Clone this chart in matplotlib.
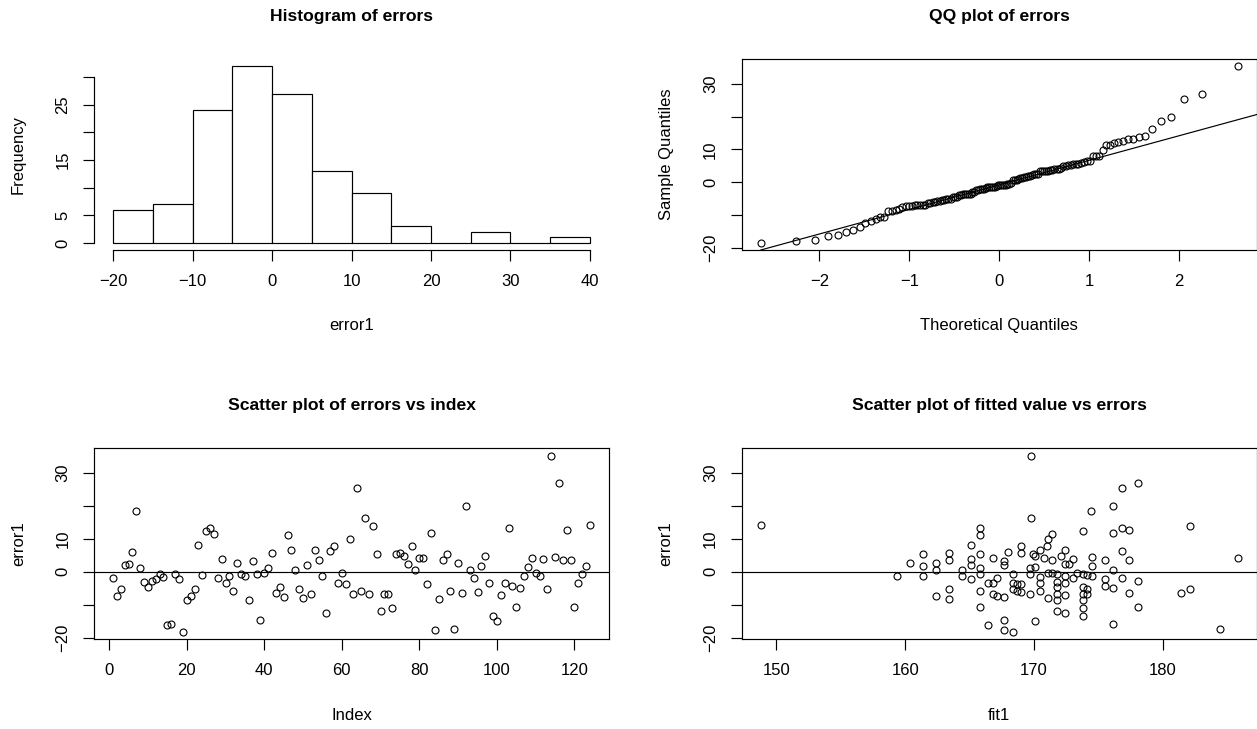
from statistics import NormalDist

import numpy as np
import matplotlib
matplotlib.use("Agg")
import matplotlib.pyplot as plt

plt.rcParams['font.family'] = ['Liberation Sans', 'DejaVu Sans']

# residuals of the fit, in index order
error1 = [
    -2.0, -7.3, -5.2, 1.9, 2.4, 6.0, 18.6, 1.2, -3.0, -4.6,
    -2.8, -2.2, -0.7, -1.7, -16.3, -16.0, -0.8, -2.3, -18.4, -8.7,
    -7.3, -5.2, 8.0, -1.0, 12.3, 13.3, 11.5, -2.0, 3.9, -3.5,
    -1.3, -5.8, 2.5, -0.7, -1.3, -8.7, 3.3, -0.7, -14.6, -0.3,
    1.0, 5.6, -6.4, -4.6, -7.6, 11.2, 6.6, 0.6, -5.4, -8.0,
    1.9, -6.8, 6.6, 3.6, -1.4, -12.4, 6.3, 7.9, -3.4, -0.4,
    -3.7, 9.9, -6.8, 25.3, -5.9, 16.2, -6.8, 13.8, 5.3, -11.8,
    -6.8, -6.8, -11.1, 5.3, 5.6, 4.9, 2.2, 7.9, 0.6, 4.2,
    4.2, -3.7, 11.9, -17.7, -8.4, 3.5, 5.5, -5.8, -17.4, 2.5,
    -6.4, 19.9, 0.6, -2.0, -6.1, 1.6, 4.9, -3.4, -13.6, -15.1,
    -7.1, -3.4, 13.3, -4.3, -10.6, -5.1, -1.4, 1.3, 4.2, -0.4,
    -1.4, 3.9, -5.4, 35.3, 4.5, 27.0, 3.5, 12.6, 3.5, -10.6,
    -3.4, -0.8, 1.6, 14.1,
]

# fitted values, same order as error1
fit1 = [
    167.1, 162.4, 182.1, 165.1, 172.4, 168.0, 174.4, 169.7, 171.8, 171.8,
    178.1, 165.1, 171.8, 170.5, 166.4, 176.1, 169.7, 175.5, 168.4, 171.8,
    167.1, 174.1, 165.1, 174.1, 173.8, 165.8, 171.4, 173.0, 173.0, 166.4,
    174.5, 168.7, 160.4, 173.8, 172.4, 173.8, 167.7, 168.4, 167.7, 173.3,
    165.8, 163.4, 177.4, 173.8, 167.7, 165.8, 170.5, 162.4, 163.4, 171.1,
    167.7, 166.8, 172.4, 171.4, 159.4, 172.4, 176.8, 169.0, 168.4, 171.4,
    168.7, 171.1, 169.7, 176.8, 165.8, 169.8, 171.8, 182.1, 165.8, 171.8,
    173.8, 174.1, 173.8, 169.9, 169.0, 170.1, 172.7, 171.0, 164.4, 166.8,
    170.8, 169.0, 176.1, 167.7, 163.4, 177.4, 161.4, 170.5, 184.4, 162.4,
    181.4, 176.1, 176.1, 176.8, 169.0, 161.4, 172.1, 170.5, 173.8, 170.1,
    172.4, 172.4, 176.8, 175.5, 178.1, 176.1, 161.4, 170.1, 185.8, 171.1,
    164.4, 165.1, 168.4, 169.8, 174.5, 178.1, 163.4, 177.4, 175.5, 165.8,
    166.8, 165.8, 174.5, 148.8,
]

hist_breaks = list(range(-20, 45, 5))
hist_xticks = [-20, -10, 0, 10, 20, 30, 40]
hist_yticks = [0, 5, 10, 15, 20, 25, 30]
hist_ylabels = ['0', '5', '', '15', '', '25', '']
err_yticks = [-20, -10, 0, 10, 20, 30]
err_ylabels = ['\u221220', '', '0', '10', '', '30']
qq_xticks = [-2, -1, 0, 1, 2]
index_xticks = [0, 20, 40, 60, 80, 100, 120]
fit_xticks = [150, 160, 170, 180]

TICK_LEN = 8.1
LW = 0.85
FS = 12
TITLE_FS = 12.6


def r_range(vals):
    lo, hi = min(vals), max(vals)
    d = (hi - lo) * 0.04
    return lo - d, hi + d


def style(ax, title, xlab, ylab):
    ax.tick_params(direction='out', length=TICK_LEN, width=LW,
                   labelsize=FS, pad=9)
    ax.tick_params(axis='y', labelrotation=90)
    for lab in ax.get_yticklabels():
        lab.set_va('center')
    for sp in ax.spines.values():
        sp.set_linewidth(LW)
    ax.annotate(title, xy=(0.5, 1), xycoords='axes fraction',
                xytext=(0, 31), textcoords='offset points',
                ha='center', va='center', fontsize=TITLE_FS,
                fontweight='bold')
    ax.annotate(xlab, xy=(0.5, 0), xycoords='axes fraction',
                xytext=(0, -54.5), textcoords='offset points',
                ha='center', va='center', fontsize=FS)
    ax.annotate(ylab, xy=(0, 0.5), xycoords='axes fraction',
                xytext=(-54.5, 0), textcoords='offset points',
                ha='center', va='center', fontsize=FS, rotation=90)


fig = plt.figure(figsize=(12.57, 7.29), dpi=100)
left_x, right_x, w = 0.0748, 0.5901, 0.4097
top_y, bot_y, h = 0.6571, 0.1230, 0.2618

# histogram
ax1 = fig.add_axes([left_x, top_y, w, h])
ax1.hist(error1, bins=hist_breaks, color='white', edgecolor='black',
         linewidth=LW)
ax1.set_xlim(-22.4, 42.4)
ax1.set_ylim(-1.28, 33.28)
ax1.set_xticks(hist_xticks)
ax1.set_xticklabels([str(t).replace('-', '\u2212') for t in hist_xticks])
ax1.set_yticks(hist_yticks)
ax1.set_yticklabels(hist_ylabels)
ax1.spines['top'].set_visible(False)
ax1.spines['right'].set_visible(False)
ax1.spines['bottom'].set_bounds(-20, 40)
ax1.spines['left'].set_bounds(0, 30)
style(ax1, 'Histogram of errors', 'error1', 'Frequency')

# QQ plot
n = len(error1)
probs = [(i - 0.5) / n for i in range(1, n + 1)]
theo = [NormalDist().inv_cdf(p) for p in probs]
sample = sorted(error1)
ax2 = fig.add_axes([right_x, top_y, w, h])
ax2.plot(theo, sample, 'o', mfc='none', mec='black', ms=5.0, mew=0.8)
q1, q3 = np.percentile(error1, [25, 75])
z1, z3 = NormalDist().inv_cdf(0.25), NormalDist().inv_cdf(0.75)
slope = (q3 - q1) / (z3 - z1)
ax2.axline((z1, q1), slope=slope, color='black', lw=LW)
ax2.set_xlim(*r_range(theo))
ax2.set_ylim(*r_range(sample))
ax2.set_xticks(qq_xticks)
ax2.set_xticklabels([str(t).replace('-', '\u2212') for t in qq_xticks])
ax2.set_yticks(err_yticks)
ax2.set_yticklabels(err_ylabels)
style(ax2, 'QQ plot of errors', 'Theoretical Quantiles', 'Sample Quantiles')

# errors vs index
idx = list(range(1, n + 1))
ax3 = fig.add_axes([left_x, bot_y, w, h])
ax3.plot(idx, error1, 'o', mfc='none', mec='black', ms=5.0, mew=0.8)
ax3.axhline(0, color='black', lw=LW)
ax3.set_xlim(*r_range(idx))
ax3.set_ylim(*r_range(error1))
ax3.set_xticks(index_xticks)
ax3.set_yticks(err_yticks)
ax3.set_yticklabels(err_ylabels)
style(ax3, 'Scatter plot of errors vs index', 'Index', 'error1')

# fitted vs errors
ax4 = fig.add_axes([right_x, bot_y, w, h])
ax4.plot(fit1, error1, 'o', mfc='none', mec='black', ms=5.0, mew=0.8)
ax4.axhline(0, color='black', lw=LW)
ax4.set_xlim(*r_range(fit1))
ax4.set_ylim(*r_range(error1))
ax4.set_xticks(fit_xticks)
ax4.set_yticks(err_yticks)
ax4.set_yticklabels(err_ylabels)
style(ax4, 'Scatter plot of fitted value vs errors', 'fit1', 'error1')

fig.savefig('out.png', dpi=100)
